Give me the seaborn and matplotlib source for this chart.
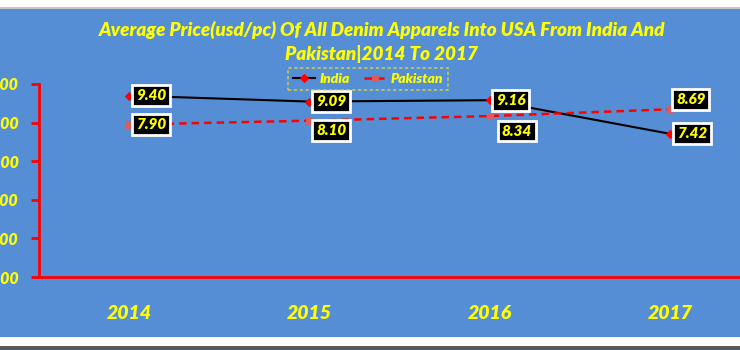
import matplotlib
matplotlib.use("Agg")
import matplotlib.pyplot as plt
from matplotlib.patches import Rectangle
import seaborn as sns
import pandas as pd

years = ["2014", "2015", "2016", "2017"]
india = [9.40, 9.09, 9.16, 7.42]
pakistan = [7.90, 8.10, 8.34, 8.69]
yticks = [0, 2, 4, 6, 8, 10]
title = "Average Price(usd/pc) Of All Denim Apparels Into USA From India And\nPakistan|2014 To 2017"

df = pd.DataFrame({
    "year": years * 2,
    "price": india + pakistan,
    "country": ["India"] * len(years) + ["Pakistan"] * len(years),
})

FONT = "Lato"
WT = "heavy"
YEL = "#FFFF00"
BLUE = "#558ED5"
RED = "#FF0000"

W, H = 740, 350
fig = plt.figure(figsize=(W / 100, H / 100), dpi=100, facecolor="white")

def fx(px):
    return px / W

def fy(py):
    return 1 - py / H

# background panel
fig.patches.append(Rectangle((0, fy(336.5)), 1, fy(8.5) - fy(336.5), transform=fig.transFigure,
                             facecolor=BLUE, edgecolor="none", zorder=-2))
fig.patches.append(Rectangle((0, fy(9)), 1, fy(7) - fy(9), transform=fig.transFigure,
                             facecolor="#C8C8C8", edgecolor="none", zorder=-2))
fig.patches.append(Rectangle((0, 0), 1, fy(346), transform=fig.transFigure,
                             facecolor="#5A5A5A", edgecolor="none", zorder=-2))

ax = fig.add_axes([fx(39), fy(277), fx(760) - fx(39), fy(84) - fy(277)])
ax.set_facecolor("none")
ax.set_zorder(2)

sns.lineplot(data=df[df.country == "India"], x="year", y="price", ax=ax,
             color="black", linewidth=1.5, marker="D", markersize=4,
             markerfacecolor=RED, markeredgecolor=RED, label="India", zorder=3)
sns.lineplot(data=df[df.country == "Pakistan"], x="year", y="price", ax=ax,
             color=RED, linewidth=1.8, linestyle=(0, (3, 2)), marker="s", markersize=5,
             markerfacecolor="#E05A5A", markeredgecolor="#E05A5A", label="Pakistan", zorder=3)

ax.set_xlim(-0.5, 3.5)
ax.set_ylim(0, 10)
ax.set_yticks(yticks)
ax.set_yticklabels([f"{v:.2f}" for v in yticks])
ax.set_xlabel("")
ax.set_ylabel("")

for s in ["top", "right"]:
    ax.spines[s].set_visible(False)
for s in ["left", "bottom"]:
    ax.spines[s].set_color(RED)
    ax.spines[s].set_linewidth(2)

ax.tick_params(axis="y", colors=RED, width=2, length=6, pad=8.6)
ax.tick_params(axis="x", length=0, pad=20)
for lab in ax.get_yticklabels():
    lab.set_color(YEL)
    lab.set_fontfamily(FONT)
    lab.set_fontweight(WT)
    lab.set_fontstyle("italic")
    lab.set_fontsize(11.5)
for lab in ax.get_xticklabels():
    lab.set_color(YEL)
    lab.set_fontfamily(FONT)
    lab.set_fontweight(WT)
    lab.set_fontstyle("italic")
    lab.set_fontsize(14)

# data labels
india_off = [(22, 0), (22, 0), (21, 0), (22, 0)]
pak_off = [(22, 0), (22, -10), (27, -15), (21, 10)]
bbox = dict(boxstyle="square,pad=0.25", facecolor="black", edgecolor="white", linewidth=2)
for i, (v, off) in enumerate(zip(india, india_off)):
    ax.annotate(f"{v:.2f}", xy=(i, v), xytext=off, textcoords="offset pixels",
                ha="center", va="center", color=YEL, fontsize=11, fontweight=WT,
                fontstyle="italic", family=FONT, bbox=bbox, zorder=5)
for i, (v, off) in enumerate(zip(pakistan, pak_off)):
    ax.annotate(f"{v:.2f}", xy=(i, v), xytext=off, textcoords="offset pixels",
                ha="center", va="center", color=YEL, fontsize=11, fontweight=WT,
                fontstyle="italic", family=FONT, bbox=bbox, zorder=5)

# legend
leg = ax.legend(loc="center", bbox_to_anchor=(fx(368), fy(79)), bbox_transform=fig.transFigure,
                ncol=2, frameon=True, fancybox=False, handlelength=1.6, handletextpad=0.3,
                columnspacing=1.0, borderpad=0.35,
                prop={"family": FONT, "weight": WT, "style": "italic", "size": 10})
frame = leg.get_frame()
frame.set_facecolor("none")
frame.set_edgecolor("#D8D84A")
frame.set_linestyle((0, (2, 1.5)))
frame.set_linewidth(1.2)
for t in leg.get_texts():
    t.set_color(YEL)

fig.text(fx(382), fy(42), title, ha="center", va="center", color=YEL, fontsize=13.6,
         fontweight=WT, fontstyle="italic", family=FONT, linespacing=1.35)

fig.savefig("out.png", dpi=100, facecolor=fig.get_facecolor())
